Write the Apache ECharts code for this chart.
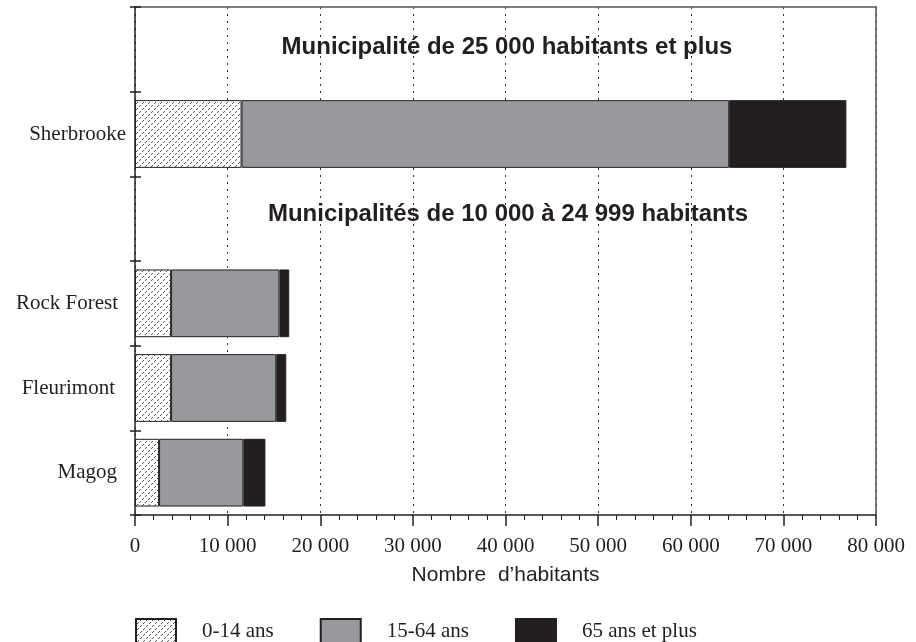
<!DOCTYPE html>
<html>
<head>
<meta charset="utf-8">
<script src="https://cdn.jsdelivr.net/npm/echarts@6/dist/echarts.min.js"></script>
<style>
  html, body { margin: 0; padding: 0; background: #fff; }
  #chart { width: 916px; height: 642px; }
</style>
</head>
<body>
<div id="chart"></div>
<script>
// bottom to top; the two blank rows hold the section titles
const villes = ["Magog", "Fleurimont", "Rock Forest", "", "Sherbrooke", " "];
const ans0_14 = [2600, 3900, 3900, null, 11500, null];
const ans15_64 = [9100, 11350, 11700, null, 52650, null];
const ans65plus = [2380, 1080, 1050, null, 12650, null];
const xTicks = [0, 10000, 20000, 30000, 40000, 50000, 60000, 70000, 80000];

const titre1 = "Municipalité de 25 000 habitants et plus";
const titre2 = "Municipalités de 10 000 à 24 999 habitants";

// motif hachuré pour 0-14 ans
function hachure() {
  let c = document.createElement("canvas");
  c.width = 6;
  c.height = 6;
  let ctx = c.getContext("2d");
  ctx.fillStyle = "#fff";
  ctx.fillRect(0, 0, 6, 6);
  ctx.fillStyle = "#5a5a5a";
  [[5, 0], [4, 1], [2, 3], [1, 4]].forEach(p => ctx.fillRect(p[0], p[1], 1, 1));
  return c;
}

const serif = "Liberation Serif";
const sans = "Liberation Sans";
const noir = "#231f20";

// petits décalages des noms comme dans l'original
const decal = { "Sherbrooke": 0, "Rock Forest": 8, "Fleurimont": 11, "Magog": 9 };

let myChart = echarts.init(document.getElementById("chart"));

let option = {
  animation: false,
  backgroundColor: "#fff",
  grid: { left: 135, right: 40, top: 7, bottom: 127 },
  title: [
    {
      text: titre1, left: 502, top: 30, textAlign: "center",
      textStyle: { fontFamily: sans, fontSize: 24, fontWeight: "bold", color: noir }
    },
    {
      text: titre2, left: 503, top: 197, textAlign: "center",
      textStyle: { fontFamily: sans, fontSize: 24, fontWeight: "bold", color: noir }
    }
  ],
  legend: {
    left: 135,
    top: 618,
    padding: 0,
    icon: "rect",
    itemWidth: 40,
    itemHeight: 24,
    itemGap: 46,
    selectedMode: false,
    data: ["0-14 ans", "15-64 ans", "65 ans et plus"],
    textStyle: { fontFamily: serif, fontSize: 21, color: noir, padding: [0, 0, 0, 21] }
  },
  xAxis: [
    {
      type: "value",
      min: 0,
      max: 80000,
      interval: 10000,
      name: "Nombre  d\u2019habitants",
      nameLocation: "middle",
      nameGap: 50,
      nameTextStyle: { fontFamily: sans, fontSize: 21, color: noir },
      axisLine: { show: true, lineStyle: { color: noir, width: 1.5 } },
      axisTick: { show: true, length: 11, lineStyle: { color: noir, width: 1.5 } },
      minorTick: { show: true, splitNumber: 5, length: 5, lineStyle: { color: noir, width: 1 } },
      axisLabel: {
        margin: 21,
        fontFamily: serif,
        fontSize: 21,
        color: noir,
        formatter: v => xTicks.indexOf(v) < 0 ? "" : String(v).replace(/\B(?=(\d{3})+(?!\d))/g, " ")
      },
      splitLine: { show: true, lineStyle: { color: "#333", type: [2, 5], width: 1 } }
    },
    {
      type: "value",
      position: "top",
      min: 0,
      max: 80000,
      axisLine: { show: true, lineStyle: { color: "#555", width: 1.5 } },
      axisTick: { show: false },
      axisLabel: { show: false },
      splitLine: { show: false }
    }
  ],
  yAxis: [
    {
      type: "category",
      data: villes,
      axisLine: { show: true, lineStyle: { color: noir, width: 1.5 } },
      axisTick: { show: true, length: 5, lineStyle: { color: noir, width: 1.5 } },
      axisLabel: {
        margin: 9,
        fontFamily: serif,
        fontSize: 21,
        color: noir,
        formatter: v => v.trim() ? "{n|" + v + "}" + "{p" + (decal[v] || 0) + "|}" : "",
        rich: {
          n: { fontFamily: serif, fontSize: 21, color: noir },
          p0: { width: 0 },
          p8: { width: 8 },
          p9: { width: 9 },
          p11: { width: 11 }
        }
      }
    },
    {
      type: "category",
      data: villes,
      position: "left",
      axisLine: { show: false },
      axisTick: { show: true, inside: true, length: 6, lineStyle: { color: noir, width: 1.5 } },
      axisLabel: { show: false }
    },
    {
      type: "category",
      data: villes,
      position: "right",
      axisLine: { show: true, lineStyle: { color: "#555", width: 1.5 } },
      axisTick: { show: false },
      axisLabel: { show: false }
    }
  ],
  series: [
    {
      name: "0-14 ans",
      type: "bar",
      stack: "pop",
      barWidth: "80%",
      data: ans0_14,
      itemStyle: { color: { image: hachure(), repeat: "repeat" }, borderColor: noir, borderWidth: 1 }
    },
    {
      name: "15-64 ans",
      type: "bar",
      stack: "pop",
      data: ans15_64,
      itemStyle: { color: "#97999c", borderColor: noir, borderWidth: 1 }
    },
    {
      name: "65 ans et plus",
      type: "bar",
      stack: "pop",
      data: ans65plus,
      itemStyle: { color: noir, borderColor: noir, borderWidth: 1 }
    }
  ]
};
myChart.setOption(option);
</script>
</body>
</html>
